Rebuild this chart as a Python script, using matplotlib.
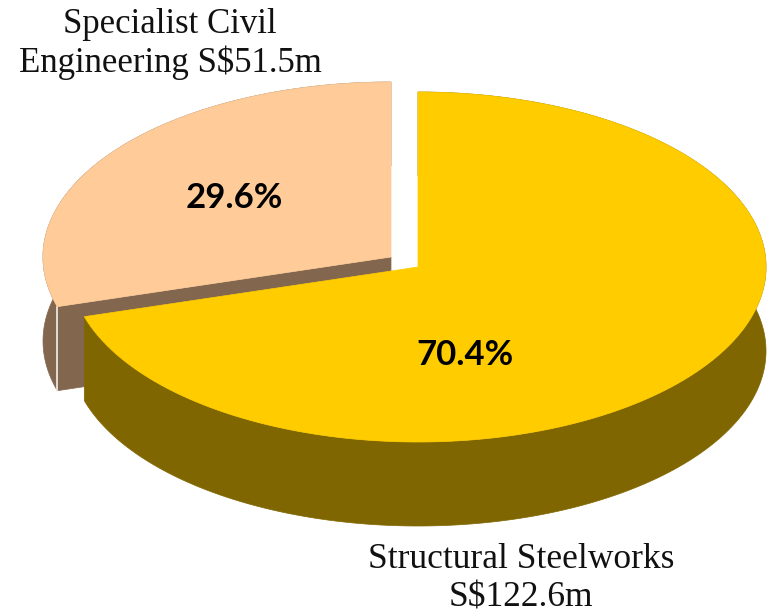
import numpy as np
from matplotlib import pyplot as plt
from matplotlib.patches import Polygon

# segment values in S$m
segments = ['Structural Steelworks', 'Specialist Civil Engineering']
values = [122.6, 51.5]

top_colors = ['#FFCC00', '#FFCC99']
side_colors = ['#806600', '#82674E']

# pie geometry, in pixels
cx, cy = 418, 267
rx, ry = 348, 175
depth = 84
shifts = [(0, 0), (-27, -10)]  # civil slice is pulled out to the upper left


def project(theta, shift):
    # theta runs clockwise from the top of the disc
    return np.column_stack((cx + shift[0] + rx * np.sin(theta),
                            cy + shift[1] - ry * np.cos(theta)))


def draw_wall(ax, rim, color, zorder):
    low = rim + (0, depth)
    ax.add_patch(Polygon(np.vstack((rim, low[::-1])), fc=color, ec=color, lw=0.5, zorder=zorder))


def main():
    fig = plt.figure(figsize=(7.67, 6.14), dpi=100)
    ax = fig.add_axes([0, 0, 1, 1])
    ax.set_xlim(0, 767)
    ax.set_ylim(614, 0)
    ax.axis('off')

    fractions = np.array(values) / sum(values)
    split = 2 * np.pi * fractions[0]

    # steelworks slice runs from the top round to the left, civil takes the rest
    yellow_rim = project(np.linspace(0, split, 400), shifts[0])
    peach_rim = project(np.linspace(split, 2 * np.pi, 200), shifts[1])

    # civil slice goes first, the larger slice sits in front of it
    tip = np.array((cx + shifts[1][0], cy + shifts[1][1]), dtype=float)
    corner = peach_rim[0]
    draw_wall(ax, peach_rim, side_colors[1], 1)
    cut = np.array([tip, corner, corner + (0, depth), tip + (0, depth)])
    ax.add_patch(Polygon(cut, fc=side_colors[1], ec=side_colors[1], lw=0.5, zorder=1))
    ax.plot([corner[0], corner[0]], [corner[1], corner[1] + depth], color='#F4F0EC', lw=1.2, zorder=1.5)
    ax.add_patch(Polygon(np.vstack((tip, peach_rim)), fc=top_colors[1], ec=top_colors[1], lw=0.5, zorder=2))

    draw_wall(ax, yellow_rim, side_colors[0], 3)
    ax.add_patch(Polygon(np.vstack(((cx, cy), yellow_rim)), fc=top_colors[0], ec=top_colors[0], lw=0.5, zorder=4))

    # percentages
    ax.text(465, 355, '%.1f%%' % (fractions[0] * 100), family='Lato', weight='bold', fontsize=25,
            ha='center', va='center', color='black', zorder=5)
    ax.text(234, 198, '%.1f%%' % (fractions[1] * 100), family='Lato', weight='bold', fontsize=25,
            ha='center', va='center', color='black', zorder=5)

    # outside labels
    ax.text(170, 44, 'Specialist Civil\nEngineering S$%.1fm' % values[1], family='Liberation Serif',
            fontsize=25, ha='center', va='center', linespacing=1.2, color='#111111', parse_math=False)
    ax.text(521, 579, 'Structural Steelworks\nS$%.1fm' % values[0], family='Liberation Serif',
            fontsize=25.5, ha='center', va='center', linespacing=1.2, color='#111111', parse_math=False)

    fig.savefig('out.png', dpi=100)


if __name__ == '__main__':
    main()
